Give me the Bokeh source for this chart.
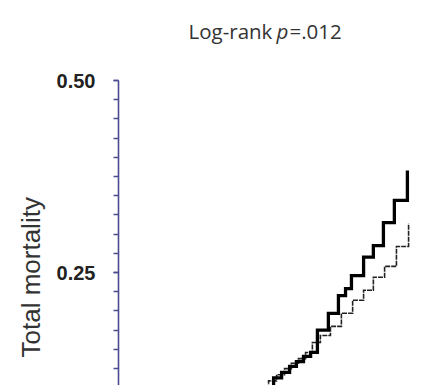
import math
from bokeh.plotting import figure
from bokeh.models import Range1d, FixedTicker, NumeralTickFormatter, Label, Title
from bokeh.embed import file_html
from bokeh.resources import INLINE

# ---- data (x = follow-up time, y = cumulative total mortality)
thick_x = [4.90, 5.24, 5.51, 5.78, 6.01, 6.25, 6.49, 6.72, 7.09, 7.43, 7.67, 7.87, 8.28, 8.61, 8.95, 9.32, 9.76]
thick_y = [0.101, 0.113, 0.120, 0.128, 0.134, 0.141, 0.146, 0.175, 0.197, 0.220, 0.229, 0.246, 0.270, 0.285, 0.315, 0.344, 0.383]

dashed_x = [4.80, 5.07, 5.34, 5.61, 5.84, 6.08, 6.32, 6.55, 6.82, 7.16, 7.53, 7.91, 8.28, 8.61, 8.99, 9.39, 9.80]
dashed_y = [0.100, 0.109, 0.117, 0.125, 0.132, 0.138, 0.146, 0.159, 0.168, 0.180, 0.197, 0.214, 0.227, 0.244, 0.258, 0.284, 0.314]

y_major_ticks = [0.0, 0.25, 0.50]
y_minor_ticks = [round(0.025 * k, 3) for k in range(0, 21)]
y_axis_bounds = (0.0, 0.50)

title_parts = ["Log-rank ", "p", "=.012"]
y_title = "Total mortality"

# ---- layout
W, H = 446, 385
FL, FR, FT, FB = 118, 414, 0, 385   # frame edges in figure pixels
AXIS_TOP = 80                       # pixel row of y = 0.50
X0, X1 = 0.0, 10.0
Y0 = 0.103
Y1 = 0.50 + (AXIS_TOP - FT) * (0.50 - Y0) / (FB - AXIS_TOP)

p = figure(width=W, height=H, output_backend="svg", toolbar_location=None,
           x_range=Range1d(X0, X1), y_range=Range1d(Y0, Y1),
           min_border_left=FL, min_border_right=W - FR,
           min_border_top=FT, min_border_bottom=H - FB)
p.title.visible = False
p.outline_line_color = None
p.xgrid.visible = False
p.ygrid.visible = False
p.xaxis.visible = False
p.background_fill_color = "white"
p.border_fill_color = "white"

ax = p.yaxis[0]
ax.bounds = y_axis_bounds
ax.ticker = FixedTicker(ticks=y_major_ticks, minor_ticks=y_minor_ticks)
ax.formatter = NumeralTickFormatter(format="0.00")
ax.axis_line_color = "#4b4b8f"
ax.axis_line_width = 1.6
ax.major_tick_line_color = "#4b4b8f"
ax.minor_tick_line_color = "#4b4b8f"
ax.major_tick_line_width = 1.6
ax.minor_tick_line_width = 1.6
ax.major_tick_out = 5
ax.major_tick_in = 0
ax.minor_tick_out = 5
ax.minor_tick_in = 0
ax.major_label_standoff = 18
ax.major_label_text_font = "Liberation Sans"
ax.major_label_text_font_size = "20px"
ax.major_label_text_font_style = "bold"
ax.major_label_text_color = "#222222"

# y-axis title as a side-panel title, shifted along the axis
ytitle = Title(text=y_title, align="left", offset=28, vertical_align="bottom",
               text_font="Liberation Sans", text_font_size="26px",
               text_font_style="normal", text_color="#333333", standoff=16)
p.add_layout(ytitle, "left")

p.step(dashed_x, dashed_y, mode="after", line_color="#222222", line_width=1.6,
       line_dash="5 1", line_join="miter")
p.step(thick_x, thick_y, mode="after", line_color="#000000", line_width=3.3,
       line_join="miter")

# screen-unit annotations: offsets from the frame's bottom-left corner
def lab(px, py, text, **kw):
    return Label(x=px - FL, y=FB - py, x_units="screen", y_units="screen", text=text, **kw)

tfont = "Open Sans"
p.add_layout(lab(188, 30, title_parts[0], text_font=tfont, text_font_size="20.5px",
                 text_color="#333333", text_align="left", text_baseline="alphabetic"))
p.add_layout(lab(276, 30, title_parts[1], text_font=tfont, text_font_size="20.5px",
                 text_color="#333333", text_font_style="italic",
                 text_align="left", text_baseline="alphabetic"))
p.add_layout(lab(289, 30, title_parts[2], text_font=tfont, text_font_size="20.5px",
                 text_color="#333333", text_align="left", text_baseline="alphabetic"))

open("out.html", "w").write(file_html(p, INLINE))
